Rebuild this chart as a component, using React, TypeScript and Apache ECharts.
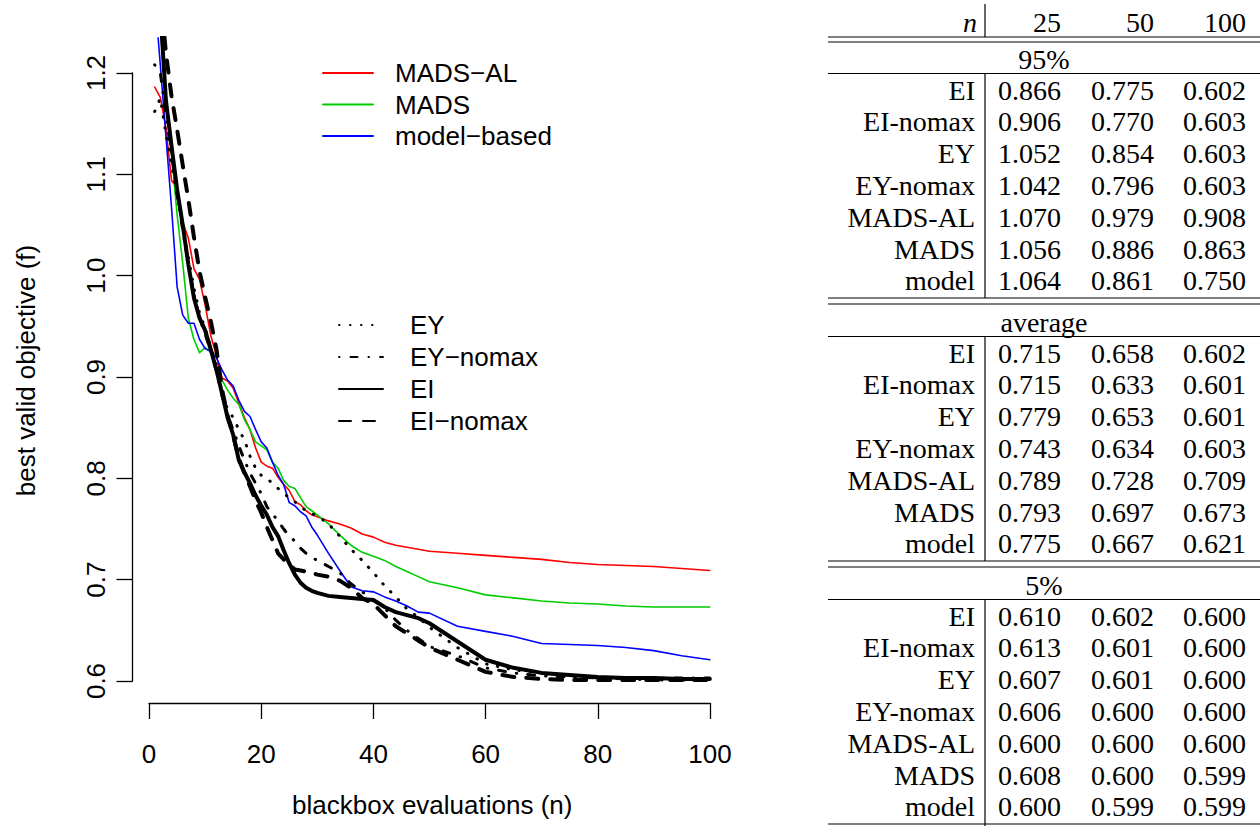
import React, { useEffect, useRef } from "react";
import * as echarts from "echarts";

// blackbox evaluations (n)
const N = [
  1, 2, 3, 4, 5, 6, 7, 8, 9, 10, 11, 12, 13, 14, 15, 16, 17, 18, 19, 20,
  21, 22, 23, 24, 25, 26, 27, 28, 29, 30, 32, 34, 36, 38, 40, 42, 44, 46, 48, 50,
  55, 60, 65, 70, 75, 80, 85, 90, 95, 100,
];

const MADS_AL = [
  1.186, 1.176, 1.146, 1.094, 1.087, 1.053, 1.037, 1.007, 0.996, 0.971,
  0.941, 0.921, 0.899, 0.896, 0.889, 0.874, 0.860, 0.848, 0.830, 0.816,
  0.812, 0.810, 0.801, 0.794, 0.788, 0.777, 0.774, 0.768, 0.764, 0.762,
  0.758, 0.755, 0.751, 0.745, 0.742, 0.737, 0.734, 0.732, 0.730, 0.728,
  0.726, 0.724, 0.722, 0.720, 0.717, 0.715, 0.714, 0.713, 0.711, 0.709,
];
const MADS = [
  1.300, 1.245, 1.173, 1.121, 1.060, 1.012, 0.958, 0.937, 0.924, 0.929,
  0.925, 0.909, 0.897, 0.887, 0.879, 0.873, 0.858, 0.848, 0.836, 0.832,
  0.828, 0.816, 0.810, 0.798, 0.792, 0.790, 0.781, 0.772, 0.768, 0.764,
  0.755, 0.744, 0.734, 0.727, 0.723, 0.719, 0.713, 0.708, 0.703, 0.698,
  0.692, 0.685, 0.682, 0.679, 0.677, 0.676, 0.674, 0.673, 0.673, 0.673,
];
const MODEL = [
  1.277, 1.208, 1.138, 1.067, 0.989, 0.961, 0.953, 0.953, 0.937, 0.928,
  0.925, 0.919, 0.907, 0.897, 0.891, 0.877, 0.866, 0.861, 0.848, 0.836,
  0.830, 0.816, 0.803, 0.794, 0.776, 0.773, 0.767, 0.763, 0.752, 0.744,
  0.726, 0.709, 0.693, 0.689, 0.688, 0.683, 0.679, 0.674, 0.668, 0.667,
  0.654, 0.649, 0.644, 0.637, 0.636, 0.635, 0.633, 0.630, 0.625, 0.621,
];
const EY = [
  1.162, 1.175, 1.140, 1.110, 1.080, 1.050, 1.018, 0.988, 0.963, 0.948,
  0.930, 0.912, 0.885, 0.868, 0.860, 0.848, 0.838, 0.822, 0.810, 0.803,
  0.800, 0.795, 0.790, 0.785, 0.781, 0.777, 0.772, 0.768, 0.765, 0.763,
  0.755, 0.743, 0.730, 0.719, 0.707, 0.694, 0.683, 0.671, 0.663, 0.653,
  0.633, 0.617, 0.611, 0.608, 0.605, 0.603, 0.602, 0.601, 0.601, 0.601,
];
const EY_NOMAX = [
  1.208, 1.200, 1.160, 1.120, 1.080, 1.045, 1.012, 0.982, 0.958, 0.942,
  0.926, 0.906, 0.882, 0.862, 0.848, 0.832, 0.818, 0.805, 0.795, 0.785,
  0.772, 0.765, 0.758, 0.750, 0.743, 0.738, 0.731, 0.726, 0.722, 0.719,
  0.713, 0.707, 0.696, 0.688, 0.680, 0.672, 0.660, 0.650, 0.642, 0.634,
  0.625, 0.613, 0.608, 0.605, 0.604, 0.603, 0.603, 0.603, 0.603, 0.603,
];
const EI = [
  1.320, 1.262, 1.173, 1.128, 1.085, 1.050, 1.011, 0.978, 0.958, 0.946,
  0.927, 0.907, 0.884, 0.860, 0.843, 0.818, 0.806, 0.795, 0.783, 0.773,
  0.764, 0.752, 0.743, 0.729, 0.716, 0.705, 0.697, 0.692, 0.689, 0.687,
  0.684, 0.683, 0.682, 0.681, 0.680, 0.673, 0.668, 0.665, 0.662, 0.657,
  0.639, 0.621, 0.613, 0.608, 0.606, 0.604, 0.603, 0.603, 0.602, 0.602,
];
const EI_NOMAX = [
  1.330, 1.280, 1.220, 1.177, 1.144, 1.109, 1.075, 1.038, 1.004, 0.979,
  0.955, 0.928, 0.888, 0.862, 0.842, 0.820, 0.805, 0.792, 0.778, 0.766,
  0.752, 0.739, 0.726, 0.720, 0.715, 0.710, 0.709, 0.708, 0.707, 0.705,
  0.703, 0.699, 0.692, 0.682, 0.676, 0.665, 0.654, 0.647, 0.640, 0.633,
  0.621, 0.609, 0.604, 0.602, 0.601, 0.601, 0.601, 0.601, 0.601, 0.601,
];

// Table
const TABLE_HEAD = ["25", "50", "100"];
const TABLE_SECTIONS = ["95%", "average", "5%"];
const TABLE_METHODS = ["EI", "EI-nomax", "EY", "EY-nomax", "MADS-AL", "MADS", "model"];
const Q95 = [
  [0.866, 0.775, 0.602],
  [0.906, 0.770, 0.603],
  [1.052, 0.854, 0.603],
  [1.042, 0.796, 0.603],
  [1.070, 0.979, 0.908],
  [1.056, 0.886, 0.863],
  [1.064, 0.861, 0.750],
];
const AVG = [
  [0.715, 0.658, 0.602],
  [0.715, 0.633, 0.601],
  [0.779, 0.653, 0.601],
  [0.743, 0.634, 0.603],
  [0.789, 0.728, 0.709],
  [0.793, 0.697, 0.673],
  [0.775, 0.667, 0.621],
];
const Q05 = [
  [0.610, 0.602, 0.600],
  [0.613, 0.601, 0.600],
  [0.607, 0.601, 0.600],
  [0.606, 0.600, 0.600],
  [0.600, 0.600, 0.600],
  [0.608, 0.600, 0.599],
  [0.600, 0.599, 0.599],
];
const TABLE_VALUES = [Q95, AVG, Q05];

const SANS = "Liberation Sans";
const SERIF = "Liberation Serif";

function buildTable() {
  const els: any[] = [];
  const fs = 28;
  const T = (text: string, x: number, y: number, align: string, italic = false) => ({
    type: "text",
    x,
    y,
    silent: true,
    style: {
      text,
      fill: "#000",
      fontSize: fs,
      fontFamily: SERIF,
      fontStyle: italic ? "italic" : "normal",
      align,
      textAlign: align,
      verticalAlign: "middle",
      textVerticalAlign: "middle",
    },
  });
  const L = (x1: number, y1: number, x2: number, y2: number) => ({
    type: "line",
    silent: true,
    shape: { x1, y1, x2, y2 },
    style: { stroke: "#000", lineWidth: 1.2 },
  });
  const X0 = 828;
  const X1 = 1260;
  const BAR = 985;
  const LABEL_R = 975;
  const COL_R = [1061, 1154, 1246];
  const CENTER = 1044;
  const PITCH = 31.83;

  els.push(T("n", 977, 22, "right", true));
  TABLE_HEAD.forEach((h, j) => els.push(T(h, COL_R[j], 22, "right")));
  els.push(L(BAR, 4, BAR, 37));
  els.push(L(X0, 37, X1, 37));
  els.push(L(X0, 42, X1, 42));

  TABLE_SECTIONS.forEach((sec, s) => {
    const B = 90 + 263 * s;
    els.push(T(sec, CENTER, B - 31, "center"));
    els.push(L(X0, B - 16.5, X1, B - 16.5));
    TABLE_METHODS.forEach((m, i) => {
      const y = B + PITCH * i;
      els.push(T(m, LABEL_R, y, "right"));
      TABLE_VALUES[s][i].forEach((v, j) => els.push(T(v.toFixed(3), COL_R[j], y, "right")));
    });
    if (s < 2) {
      els.push(L(BAR, B - 16.5, BAR, B + 208));
      els.push(L(X0, B + 208, X1, B + 208));
      els.push(L(X0, B + 214, X1, B + 214));
    } else {
      els.push(L(BAR, B - 16.5, BAR, 826));
      els.push(L(X0, B + 208, X1, B + 208));
    }
  });
  return els;
}

export default function App() {
  const ref = useRef<HTMLDivElement>(null);
  useEffect(() => {
    document.body.style.margin = "0";
    const chart = echarts.init(ref.current!, null, { renderer: "svg" });

    const mk = (name: string, vals: number[], color: string, width: number, type: any, z: number) => ({
      name,
      type: "line",
      xAxisIndex: 0,
      yAxisIndex: 0,
      symbol: "none",
      showSymbol: false,
      silent: true,
      z,
      data: N.map((n, i) => [n, vals[i]]),
      lineStyle: { color, width, type, cap: "round", join: "round" },
      itemStyle: { color },
    });

    const axisLineStyle = { color: "#000", width: 1.3 };
    const textBase = { color: "#000", fontFamily: SANS, fontSize: 26 };

    const legendBase = {
      orient: "vertical",
      padding: 0,
      itemHeight: 4,
      selectedMode: false,
      itemStyle: { opacity: 0 },
      textStyle: { ...textBase, lineHeight: 31 },
    };

    chart.setOption({
      animation: false,
      backgroundColor: "#fff",
      grid: [
        { left: 132.5, right: 528, top: 38, bottom: 123 },
        { left: 149, right: 550, top: 38, bottom: 123 },
        { left: 132.5, right: 528, top: 73, bottom: 145 },
      ],
      xAxis: [
        {
          gridIndex: 0,
          type: "value",
          min: -2.96,
          max: 103.96,
          axisLine: { show: false },
          axisTick: { show: false },
          axisLabel: { show: false },
          splitLine: { show: false },
          name: "blackbox evaluations (n)",
          nameLocation: "middle",
          nameGap: 89,
          nameTextStyle: textBase,
        },
        {
          gridIndex: 1,
          type: "value",
          min: 0,
          max: 100,
          interval: 20,
          axisLine: { show: true, lineStyle: axisLineStyle },
          axisTick: { show: true, length: 16, lineStyle: axisLineStyle },
          axisLabel: { ...textBase, margin: 38 },
          splitLine: { show: false },
        },
        { gridIndex: 2, type: "value", show: false, min: 0, max: 1 },
      ],
      yAxis: [
        {
          gridIndex: 0,
          type: "value",
          min: 0.5783,
          max: 1.2345,
          axisLine: { show: false },
          axisTick: { show: false },
          axisLabel: { show: false },
          splitLine: { show: false },
          name: "best valid objective (f)",
          nameLocation: "middle",
          nameGap: 94,
          nameTextStyle: textBase,
        },
        { gridIndex: 1, type: "value", show: false, min: 0, max: 1 },
        {
          gridIndex: 2,
          type: "value",
          min: 0.6,
          max: 1.2,
          interval: 0.1,
          axisLine: { show: true, lineStyle: axisLineStyle },
          axisTick: { show: true, length: 16, lineStyle: axisLineStyle },
          axisLabel: {
            ...textBase,
            rotate: 90,
            margin: 24,
            formatter: (v: number) => v.toFixed(1),
          },
          splitLine: { show: false },
        },
      ],
      legend: [
        {
          ...legendBase,
          data: ["MADS−AL", "MADS", "model−based"],
          left: 322,
          top: 57.5,
          itemWidth: 50,
          itemGap: 0.5,
          textStyle: { ...textBase, lineHeight: 31, padding: [0, 0, 0, 17] },
        },
        {
          ...legendBase,
          data: ["EY", "EY−nomax", "EI", "EI−nomax"],
          left: 338,
          top: 309.5,
          itemWidth: 44,
          itemGap: 1,
          textStyle: { ...textBase, lineHeight: 31, padding: [0, 0, 0, 22] },
        },
      ],
      series: [
        mk("MADS−AL", MADS_AL, "#FF0000", 1.6, "solid", 2),
        mk("MADS", MADS, "#00CD00", 1.6, "solid", 2),
        mk("model−based", MODEL, "#0000FF", 1.6, "solid", 2),
        mk("EY", EY, "#000", 3, [0.5, 10.5], 3),
        mk("EY−nomax", EY_NOMAX, "#000", 3, [0.5, 11, 7, 11], 3),
        mk("EI", EI, "#000", 4, "solid", 3),
        mk("EI−nomax", EI_NOMAX, "#000", 4, [12, 12], 3),
      ],
      graphic: buildTable(),
    });
    return () => chart.dispose();
  }, []);
  return <div ref={ref} style={{ width: 1260, height: 826 }} />;
}
